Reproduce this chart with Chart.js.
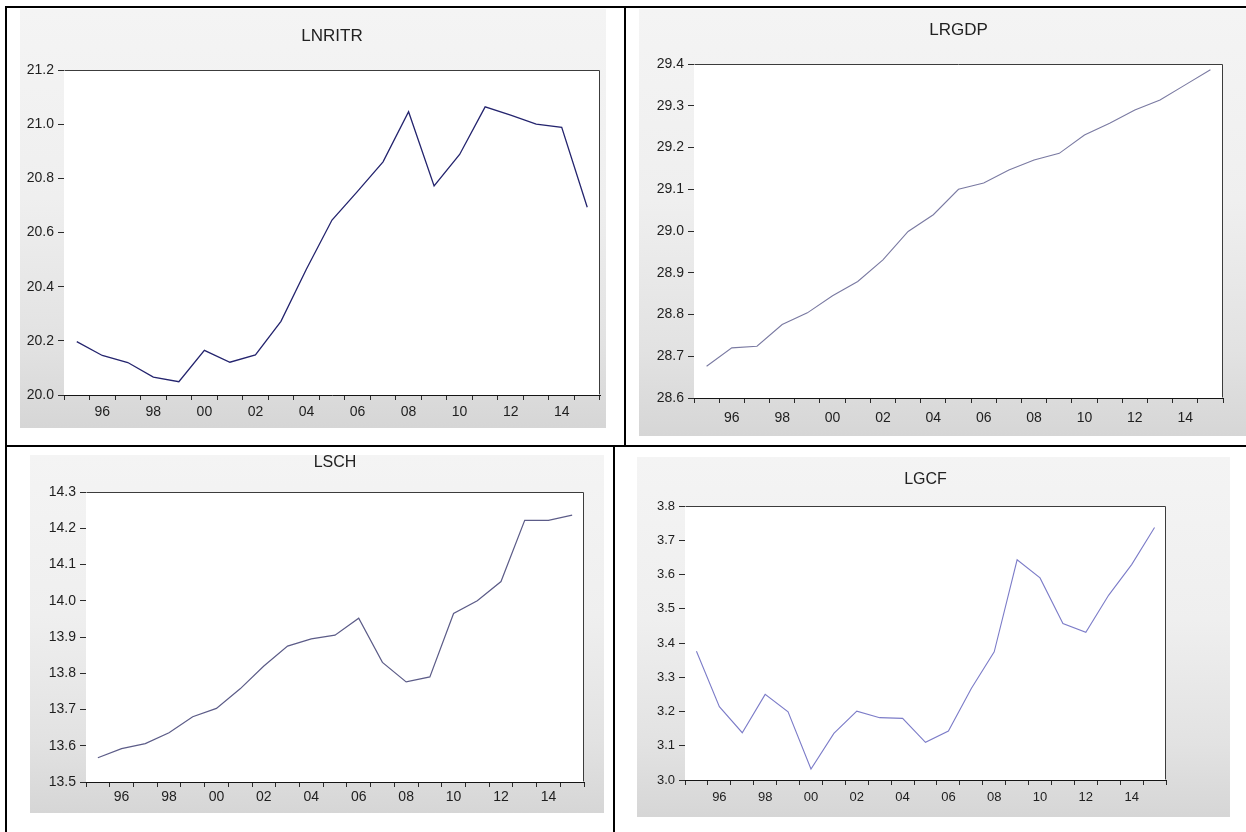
<!DOCTYPE html>
<html>
<head>
<meta charset="utf-8">
<title>LNRITR, LRGDP, LSCH, LGCF</title>
<script src="https://cdn.jsdelivr.net/npm/chart.js@4.4.1/dist/chart.umd.min.js"></script>
<style>
  html, body { margin: 0; padding: 0; background: #fff; }
  #page { position: relative; width: 1246px; height: 832px; overflow: hidden; background: #fff; }
  .rule { position: absolute; background: #000; }
  .panel { position: absolute; background: linear-gradient(to bottom, #f4f4f4 0%, #efefef 45%, #e2e2e2 80%, #d6d6d6 100%); }
  canvas { position: absolute; }
</style>
</head>
<body>
<div id="page"></div>
<script>
// Annual observations, 1995-2015
const years = [1995, 1996, 1997, 1998, 1999, 2000, 2001, 2002, 2003, 2004, 2005,
               2006, 2007, 2008, 2009, 2010, 2011, 2012, 2013, 2014, 2015];

// Tick text under each year (every second year, two digits)
const yearTickLabels = ['', '96', '', '98', '', '00', '', '02', '', '04', '',
                        '06', '', '08', '', '10', '', '12', '', '14', ''];

// Series (natural logs)
const lnritr = [20.197, 20.146, 20.120, 20.066, 20.049, 20.165, 20.121, 20.148, 20.272, 20.465, 20.646,
                20.752, 20.861, 21.046, 20.772, 20.888, 21.064, 21.033, 21.000, 20.988, 20.693];
const lrgdp  = [28.676, 28.720, 28.724, 28.776, 28.804, 28.845, 28.879, 28.931, 28.999, 29.039, 29.100,
                29.115, 29.146, 29.170, 29.186, 29.230, 29.258, 29.290, 29.314, 29.350, 29.386];
const lsch   = [13.567, 13.592, 13.606, 13.636, 13.680, 13.703, 13.757, 13.820, 13.875, 13.895, 13.905,
                13.952, 13.830, 13.776, 13.790, 13.965, 14.000, 14.053, 14.222, 14.222, 14.236];
const lgcf   = [3.376, 3.214, 3.138, 3.250, 3.199, 3.032, 3.136, 3.201, 3.182, 3.180, 3.110,
                3.143, 3.267, 3.374, 3.643, 3.590, 3.457, 3.431, 3.540, 3.629, 3.737];

// Value-axis ranges and steps
const lnritrAxis = [20.0, 21.2, 0.2];
const lrgdpAxis  = [28.6, 29.4, 0.1];
const lschAxis   = [13.5, 14.3, 0.1];
const lgcfAxis   = [3.0, 3.8, 0.1];

const FONT = '"Liberation Sans", Arial, "DejaVu Sans", sans-serif';
const page = document.getElementById('page');

// Table rules around the four cells
[
  [5, 6, 1241, 2],      // top
  [5, 6, 2, 826],       // left
  [5, 445, 1241, 2],    // middle horizontal
  [624, 6, 2, 441],     // upper divider
  [613, 445, 2, 387]    // lower divider
].forEach(([x, y, w, h]) => {
  const d = document.createElement('div');
  d.className = 'rule';
  Object.assign(d.style, { left: x + 'px', top: y + 'px', width: w + 'px', height: h + 'px' });
  page.appendChild(d);
});

// Outlined plot box with a white interior
const plotFrame = {
  id: 'plotFrame',
  beforeDatasetsDraw(chart) {
    const a = chart.chartArea, c = chart.ctx;
    c.save();
    c.fillStyle = '#ffffff';
    c.fillRect(a.left, a.top, a.right - a.left, a.bottom - a.top);
    c.restore();
  },
  afterDraw(chart) {
    const a = chart.chartArea, c = chart.ctx;
    c.save();
    c.strokeStyle = '#3c3c3c';
    c.lineWidth = 1;
    c.beginPath();
    c.moveTo(Math.round(a.left) + 0.5, Math.round(a.top) + 0.5);
    c.lineTo(Math.round(a.right) - 0.5, Math.round(a.top) + 0.5);
    c.lineTo(Math.round(a.right) - 0.5, Math.round(a.bottom) - 0.5);
    c.stroke();
    c.restore();
  }
};

const panels = [
  { title: 'LNRITR', values: lnritr, axis: lnritrAxis, color: '#24246e', width: 1.3,
    cell: { x: 7, y: 8, w: 617, h: 437 }, bg: { x: 20, y: 9, w: 586, h: 419 },
    plot: { l: 64, t: 70, r: 600, b: 395 }, titleY: 36, labelY: 412.5, titleSize: 17, tickSize: 14 },
  { title: 'LRGDP', values: lrgdp, axis: lrgdpAxis, color: '#7a7aa2', width: 1.1,
    cell: { x: 626, y: 8, w: 620, h: 437 }, bg: { x: 639, y: 9, w: 607, h: 427 },
    plot: { l: 694, t: 64, r: 1223, b: 398 }, titleY: 30, labelY: 418.5, titleSize: 17, tickSize: 14 },
  { title: 'LSCH', values: lsch, axis: lschAxis, color: '#5c5c88', width: 1.2,
    cell: { x: 7, y: 447, w: 606, h: 385 }, bg: { x: 30, y: 455, w: 574, h: 358 },
    plot: { l: 86, t: 492, r: 584, b: 782 }, titleY: 462.5, labelY: 797.5, titleSize: 16, tickSize: 14 },
  { title: 'LGCF', values: lgcf, axis: lgcfAxis, color: '#7c7cc8', width: 1.1,
    cell: { x: 615, y: 447, w: 631, h: 385 }, bg: { x: 637, y: 457, w: 593, h: 360 },
    plot: { l: 685, t: 506, r: 1166, b: 780 }, titleY: 479.5, labelY: 797.5, titleSize: 16, tickSize: 13 }
];

panels.forEach(p => {
  const bg = document.createElement('div');
  bg.className = 'panel';
  Object.assign(bg.style, { left: p.bg.x + 'px', top: p.bg.y + 'px', width: p.bg.w + 'px', height: p.bg.h + 'px' });
  page.appendChild(bg);

  const cv = document.createElement('canvas');
  cv.width = p.cell.w; cv.height = p.cell.h;
  Object.assign(cv.style, { left: p.cell.x + 'px', top: p.cell.y + 'px', width: p.cell.w + 'px', height: p.cell.h + 'px' });
  page.appendChild(cv);

  const xTick = 5, yTick = 6, yPad = 4;
  const lh = p.tickSize * 1.2;
  const titlePadTop = p.titleY - p.cell.y - p.titleSize / 2;
  const titlePadBottom = (p.plot.t - p.cell.y) - titlePadTop - p.titleSize;
  const xPad = (p.labelY - p.plot.b) - xTick - lh / 2;
  const [ymin, ymax, ystep] = p.axis;

  new Chart(cv, {
    type: 'line',
    data: {
      labels: years,
      datasets: [{
        data: p.values,
        borderColor: p.color,
        borderWidth: p.width,
        pointRadius: 0,
        tension: 0,
        fill: false
      }]
    },
    options: {
      responsive: false,
      animation: false,
      devicePixelRatio: 1,
      events: [],
      layout: { padding: { left: 0, top: 0, right: (p.cell.x + p.cell.w) - p.plot.r, bottom: 0 } },
      plugins: {
        legend: { display: false },
        tooltip: { enabled: false },
        title: {
          display: true,
          text: p.title,
          fullSize: false,
          color: '#222222',
          font: { family: FONT, size: p.titleSize, weight: 'normal', lineHeight: 1 },
          padding: { top: titlePadTop, bottom: titlePadBottom }
        }
      },
      scales: {
        x: {
          type: 'category',
          offset: true,
          grid: { offset: true, drawOnChartArea: false, drawTicks: true, tickLength: xTick, color: '#2a2a2a', lineWidth: 1 },
          border: { display: true, color: '#151515', width: 1 },
          ticks: {
            autoSkip: false, maxRotation: 0, minRotation: 0, padding: xPad,
            color: '#1e1e1e', font: { family: FONT, size: p.tickSize },
            callback: (v, i) => yearTickLabels[i]
          },
          afterFit: s => { s.height = (p.cell.y + p.cell.h) - p.plot.b; }
        },
        y: {
          type: 'linear',
          min: ymin, max: ymax,
          grid: { drawOnChartArea: false, drawTicks: true, tickLength: yTick, color: '#2a2a2a', lineWidth: 1 },
          border: { display: true, color: '#151515', width: 1 },
          ticks: {
            stepSize: ystep, padding: yPad,
            color: '#1e1e1e', font: { family: FONT, size: p.tickSize },
            callback: v => Number(v).toFixed(1)
          },
          afterFit: s => { s.width = p.plot.l - p.cell.x; }
        }
      }
    },
    plugins: [plotFrame]
  });
});
</script>
</body>
</html>
